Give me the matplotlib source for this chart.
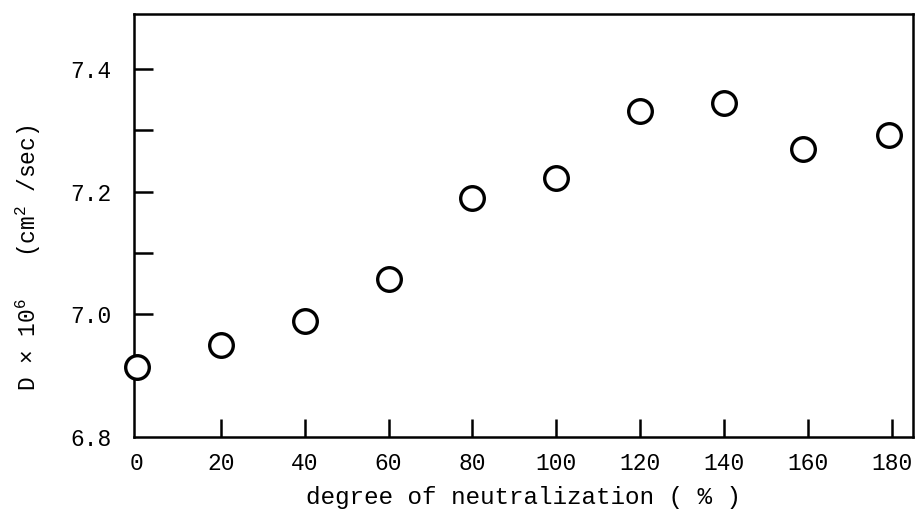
import numpy as np
import matplotlib.pyplot as plt

# datos
neutralizacion = [0, 20, 40, 60, 80, 100, 120, 140, 158.8, 179.3]
difusion = [6.914, 6.950, 6.989, 7.058, 7.190, 7.223, 7.331, 7.344, 7.269, 7.293]
xticks = [0, 20, 40, 60, 80, 100, 120, 140, 160, 180]
yticks = [6.8, 7.0, 7.2, 7.4]
yticks_menores = [7.1, 7.3]

plt.rcParams['font.family'] = ['Liberation Mono', 'DejaVu Sans Mono']
plt.rcParams['mathtext.fontset'] = 'custom'
plt.rcParams['mathtext.rm'] = 'Liberation Mono'
plt.rcParams['mathtext.it'] = 'Liberation Mono'

fig = plt.figure(figsize=(9.17, 5.11), dpi=100)
ax = fig.add_axes([0.146, 0.145, 0.8496, 0.8276])

ax.plot(neutralizacion, difusion, 'o', ms=17, mfc='white', mec='black',
        mew=2.4, clip_on=False, zorder=5)

ax.set_xlim(-0.7, 185)
ax.set_ylim(6.8, 7.49)
ax.set_xticks(xticks)
ax.set_yticks(yticks)
ax.set_yticks(yticks_menores, minor=True)

for s in ax.spines.values():
    s.set_linewidth(1.8)

ax.tick_params(axis='both', which='both', direction='in', width=1.8,
               labelsize=16.5, color='black')
ax.tick_params(axis='y', which='both', length=14, pad=16)
ax.tick_params(axis='x', which='major', length=13, pad=11)
ax.set_yticklabels(['6.8', '7.0', '7.2', '7.4'])
ax.xaxis.get_major_ticks()[0].tick1line.set_visible(False)
ax.yaxis.get_major_ticks()[0].tick1line.set_visible(False)

ax.set_xlabel('degree of neutralization ( % )', fontsize=17.5, labelpad=8)
fig.text(28 / 917, 1 - 258 / 511, r'D $\times$ 10$^{6}$   (cm$^{2}$ /sec)',
         rotation=90, ha='center', va='center', fontsize=16.5)

plt.savefig('out.png', dpi=100)
